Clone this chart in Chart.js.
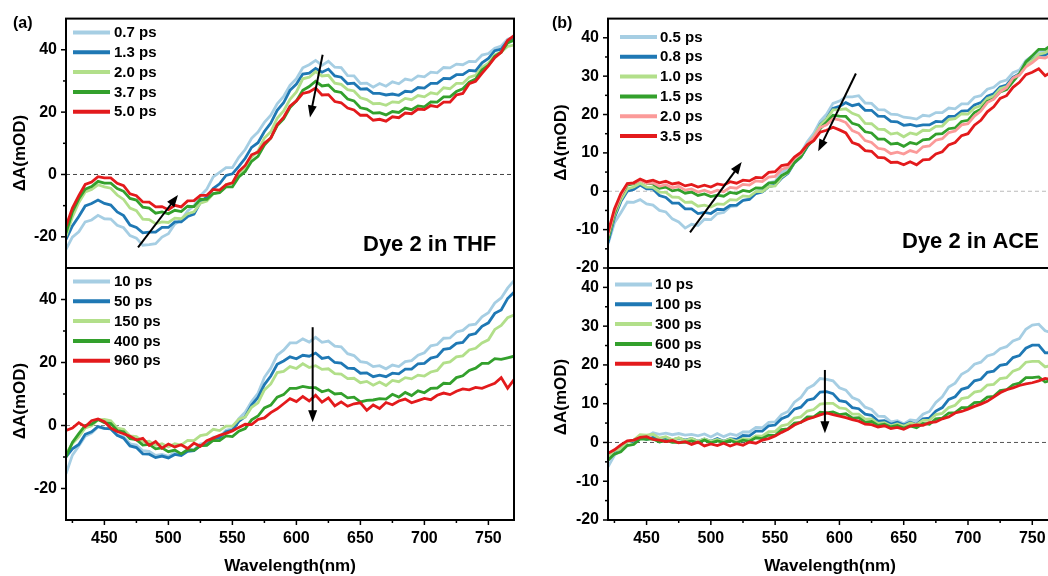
<!DOCTYPE html>
<html><head><meta charset="utf-8">
<script src="https://cdn.jsdelivr.net/npm/chart.js@4.4.1/dist/chart.umd.min.js"></script>
<style>
html,body{margin:0;padding:0;background:#fff;overflow:hidden;width:1048px;height:576px;position:relative;}
canvas{position:absolute;left:0;top:0;}
</style></head><body>
<canvas id="ta" width="1070" height="576" style="width:1070px;height:576px"></canvas>
<canvas id="ba" width="1070" height="576" style="width:1070px;height:576px"></canvas>
<canvas id="tb" width="1070" height="576" style="width:1070px;height:576px"></canvas>
<canvas id="bb" width="1070" height="576" style="width:1070px;height:576px"></canvas>
<script>
// ---------- DATA ----------
const WL = [420,425,430,435,440,445,450,455,460,465,470,475,480,485,490,495,500,505,510,515,
520,525,530,535,540,545,550,555,560,565,570,575,580,585,590,595,600,605,610,615,
620,625,630,635,640,645,650,655,660,665,670,675,680,685,690,695,700,705,710,715,
720,725,730,735,740,745,750,755,760,765,770];

const X_MAJOR = [450,500,550,600,650,700,750];
const X_MINOR = [425,475,525,575,625,675,725];
const YA_MAJOR = [-20,0,20,40];
const YA_MINOR = [-10,10,30];
const YB_MAJOR = [-20,-10,0,10,20,30,40];
const YB_MINOR = [-15,-5,5,15,25,35];

// (a) top: Dye 2 in THF, early times
const TA_NAMES = ['0.7 ps','1.3 ps','2.0 ps','3.7 ps','5.0 ps'];
const TA_07 = [-24.0,-20.1,-18.4,-15.2,-14.6,-13.1,-14.2,-14.3,-16.3,-17.1,
-19.6,-20.4,-22.7,-22.5,-22.2,-20.1,-19.0,-15.9,-14.6,-11.7,
-10.0,-6.8,-4.7,-0.8,0.7,2.2,2.2,5.5,8.0,11.6,
13.6,16.7,19.0,22.7,25.0,28.6,30.7,34.2,35.2,36.6,
35.0,36.3,34.4,34.3,31.7,31.6,29.2,29.3,28.0,29.2,
28.3,29.7,29.1,30.6,30.2,31.6,31.3,32.8,32.6,34.3,
34.2,35.4,35.2,36.3,36.2,38.3,38.8,40.5,41.2,43.4,
44.0];
const TA_13 = [-20.8,-16.5,-13.5,-10.1,-9.3,-8.2,-9.3,-9.8,-12.0,-13.2,
-16.2,-17.0,-18.7,-18.5,-18.5,-17.0,-17.0,-15.2,-15.2,-13.5,
-12.7,-8.9,-7.2,-4.5,-3.0,-0.3,0.2,2.6,5.2,8.7,
10.2,13.8,16.5,20.6,23.0,27.0,29.0,32.2,32.5,34.0,
32.8,33.8,31.6,31.2,29.1,29.3,27.4,27.5,26.0,26.0,
25.5,25.8,25.4,26.7,26.5,27.9,27.7,29.2,29.2,30.8,
30.7,32.0,32.0,33.4,33.2,35.8,37.2,39.7,40.2,42.8,
43.5];
const TA_20 = [-19.8,-13.6,-9.0,-5.6,-4.8,-3.3,-4.0,-4.4,-6.6,-8.0,
-10.8,-11.6,-14.3,-14.5,-15.8,-15.2,-15.4,-14.0,-14.2,-12.6,
-12.0,-9.2,-8.5,-6.2,-5.6,-3.2,-2.8,0.0,1.9,5.5,
7.5,11.7,13.7,18.0,20.4,24.1,26.5,30.7,31.2,33.0,
31.6,31.8,29.3,28.9,27.2,26.8,24.6,24.0,22.7,22.8,
22.2,23.3,23.1,24.4,24.0,25.3,24.9,26.2,25.8,27.8,
27.5,29.2,29.2,31.2,31.8,34.4,35.7,38.4,39.3,41.1,
41.5];
const TA_37 = [-18.8,-12.0,-7.8,-4.7,-3.9,-2.2,-2.8,-2.8,-4.5,-5.4,
-7.7,-8.2,-10.5,-10.8,-12.4,-12.0,-12.6,-11.5,-11.9,-10.2,
-10.3,-7.9,-8.0,-6.1,-5.8,-4.0,-4.0,-0.8,0.9,4.2,
5.8,9.4,11.7,15.7,17.8,21.5,23.6,27.0,28.2,29.9,
28.4,28.7,26.7,26.3,24.2,23.6,21.4,21.0,19.7,19.8,
19.1,20.2,19.9,21.3,20.8,22.0,21.7,23.3,23.2,24.9,
24.9,26.6,27.5,29.6,30.6,33.5,35.0,37.9,39.2,42.2,
43.1];
const TA_50 = [-16.6,-10.8,-6.8,-3.2,-2.4,-0.7,-1.1,-1.1,-2.8,-3.6,
-6.2,-6.8,-8.8,-8.9,-10.4,-10.3,-11.3,-9.9,-10.4,-8.5,
-8.4,-6.7,-6.7,-4.8,-5.0,-3.3,-2.7,1.0,2.9,6.3,
7.2,10.0,11.7,16.0,18.3,21.9,23.6,26.0,26.5,27.7,
25.5,25.6,23.4,23.0,21.3,20.7,19.0,19.0,17.4,17.7,
17.1,18.5,18.2,19.7,19.5,21.0,20.8,22.1,21.7,23.2,
23.2,25.5,26.0,29.1,29.9,32.4,34.8,37.5,39.2,43.0,
44.5];

// (a) bottom: Dye 2 in THF, late times
const BA_NAMES = ['10 ps','50 ps','150 ps','400 ps','960 ps'];
const BA_10 = [-15.3,-9.4,-6.5,-3.4,-2.4,-0.5,-1.0,-1.0,-3.1,-3.5,
-5.8,-6.2,-8.0,-8.2,-9.5,-9.2,-9.8,-8.6,-9.0,-7.6,
-7.6,-5.8,-5.7,-3.7,-3.6,-1.5,-1.0,2.2,4.2,7.6,
10.2,15.3,18.2,22.3,23.9,26.2,26.2,27.5,26.5,28.0,
26.4,26.8,25.2,25.0,22.8,22.2,20.3,20.0,18.7,19.0,
18.0,19.2,18.7,20.3,20.6,22.3,23.1,25.3,25.7,27.7,
27.8,29.7,30.2,31.9,32.2,34.5,35.8,38.9,40.5,43.6,
46.0];
const BA_50 = [-10.0,-7.4,-6.0,-2.8,-2.0,-0.3,-0.9,-1.1,-3.1,-4.0,
-6.5,-7.0,-9.0,-9.1,-10.2,-9.7,-10.3,-9.2,-9.5,-8.2,
-8.0,-6.4,-6.1,-4.2,-3.9,-2.0,-1.5,1.3,2.8,6.5,
8.9,13.0,15.7,19.4,20.5,21.8,21.2,22.3,22.0,23.0,
21.3,21.7,20.0,19.8,18.2,18.1,16.6,16.7,15.5,16.0,
15.5,16.6,16.4,17.9,17.9,19.6,19.7,21.4,21.9,24.2,
24.5,26.1,26.4,28.7,29.2,31.5,32.6,35.6,36.7,40.3,
42.3];
const BA_150 = [-9.0,-5.7,-3.6,-0.8,-0.1,1.8,1.9,1.5,-0.8,-1.2,
-3.3,-3.5,-5.2,-5.0,-6.3,-5.8,-6.8,-5.8,-6.2,-4.7,
-4.8,-3.2,-2.8,-1.2,-1.6,-0.2,-0.2,2.0,2.7,5.8,
7.2,11.3,13.2,16.8,17.2,18.7,18.1,19.6,18.4,19.0,
17.8,18.0,16.5,16.3,14.9,15.0,13.6,14.0,12.8,13.8,
12.7,14.3,13.9,15.2,14.8,16.0,15.7,17.0,17.5,19.8,
20.2,21.8,22.1,24.0,24.5,26.2,27.2,30.5,31.8,34.2,
35.1];
const BA_400 = [-10.0,-5.4,-2.6,0.0,0.4,1.9,0.9,0.6,-1.6,-2.0,
-4.2,-4.5,-6.2,-6.0,-7.4,-7.1,-8.3,-7.8,-9.0,-7.7,
-7.9,-6.4,-6.3,-4.7,-4.8,-3.3,-3.5,-1.8,-1.0,1.8,
3.0,5.6,6.5,9.0,9.8,11.8,11.8,12.4,12.0,12.0,
10.7,11.3,10.0,10.2,8.8,9.0,7.5,8.0,8.1,8.5,
8.4,9.9,9.0,10.5,9.5,11.0,10.4,11.8,11.9,13.4,
13.3,15.2,15.8,17.5,18.2,19.7,19.7,21.2,21.0,21.5,
22.0];
const BA_960 = [-1.6,-0.8,0.9,-0.4,1.5,2.1,1.2,-0.8,-1.9,-2.6,
-3.4,-4.6,-4.1,-6.3,-5.1,-7.2,-5.9,-6.8,-6.1,-7.3,
-5.6,-6.6,-4.8,-4.0,-3.1,-2.5,-1.7,-0.6,0.4,0.3,
1.9,2.4,4.1,5.3,6.9,8.5,7.6,9.2,7.8,9.6,
7.4,8.8,6.2,7.5,6.1,6.9,7.2,4.8,6.5,5.4,
7.3,6.6,7.8,8.4,7.2,7.9,8.6,8.2,9.6,10.3,
9.8,10.9,11.6,11.3,12.1,11.8,12.6,13.4,15.2,11.8,
14.6];

// (b) top: Dye 2 in ACE, early times
const TB_NAMES = ['0.5 ps','0.8 ps','1.0 ps','1.5 ps','2.0 ps','3.5 ps'];
const TB_05 = [-13.8,-8.2,-5.6,-2.8,-2.9,-2.2,-3.3,-3.6,-5.0,-5.4,
-7.2,-8.0,-9.6,-8.6,-8.9,-7.3,-7.4,-5.8,-5.5,-4.0,
-3.8,-2.3,-2.0,-0.2,0.5,2.2,2.6,4.9,5.8,8.5,
10.0,12.9,15.1,18.2,20.1,22.9,23.5,24.6,24.6,24.9,
23.0,22.9,21.3,21.2,20.1,20.0,19.3,19.1,18.8,19.8,
19.6,20.5,20.5,21.7,21.5,22.8,22.8,24.5,24.9,26.6,
27.1,28.5,29.0,30.9,31.6,34.1,35.3,36.4,36.6,37.6,
37.6];
const TB_08 = [-13.4,-6.9,-2.7,0.0,0.5,1.6,0.6,0.6,-1.1,-1.6,
-3.1,-3.1,-4.6,-4.6,-5.8,-5.5,-5.8,-4.7,-4.8,-3.7,
-3.6,-2.4,-2.1,-0.6,-0.2,1.2,1.6,3.4,4.7,7.4,
8.9,11.6,13.8,17.3,18.9,21.6,22.1,23.1,22.3,22.7,
21.1,21.1,19.6,19.5,18.2,18.1,17.2,17.4,17.0,17.3,
17.3,18.2,18.1,19.5,19.6,20.9,21.0,22.5,23.1,24.8,
25.4,27.2,27.7,29.7,30.6,33.1,34.3,35.5,35.5,36.6,
36.6];
const TB_10 = [-12.5,-6.3,-2.2,0.6,1.1,2.1,1.1,1.0,-0.2,-0.3,
-1.5,-1.6,-2.9,-2.8,-3.9,-3.6,-4.1,-3.3,-3.4,-2.2,
-2.3,-1.2,-1.4,-0.1,-0.1,1.2,1.4,3.7,4.9,7.6,
9.1,12.1,14.3,17.2,18.8,21.2,21.3,21.5,20.3,19.7,
17.7,17.6,16.2,16.1,14.9,15.2,14.2,15.2,14.8,15.9,
15.8,16.9,17.0,18.7,18.9,20.2,20.1,21.7,22.3,24.2,
24.8,26.7,27.3,29.4,30.5,32.9,34.1,35.7,36.1,37.2,
37.1];
const TB_15 = [-12.5,-5.8,-1.3,1.6,2.0,3.0,2.1,1.9,0.8,1.1,
0.1,0.4,-0.5,-0.2,-1.1,-0.7,-1.4,-1.0,-1.3,-0.3,
-0.6,0.2,-0.1,0.9,0.8,2.1,2.3,4.1,5.0,7.5,
9.0,11.8,13.3,16.3,18.0,19.8,19.6,19.5,17.7,17.2,
15.5,15.2,13.6,13.6,12.3,12.5,11.7,12.7,12.3,13.4,
13.6,14.9,15.0,16.3,16.5,18.2,18.5,20.5,21.4,23.4,
24.1,25.9,26.5,28.6,30.6,33.7,35.3,37.0,37.0,38.1,
37.9];
const TB_20 = [-11.7,-5.2,-1.2,1.9,2.1,2.9,2.1,2.2,1.3,1.7,
0.9,1.3,0.3,0.6,-0.2,0.3,-0.4,0.3,-0.1,1.0,
0.8,1.8,1.6,2.7,2.5,3.7,3.9,5.7,6.3,8.6,
9.8,12.2,14.1,16.6,17.3,18.9,18.6,17.9,15.8,15.1,
13.2,12.7,11.2,10.9,9.8,10.2,9.7,10.6,10.1,11.6,
11.8,13.3,13.7,15.3,15.7,17.3,17.6,19.6,20.9,23.1,
24.0,25.9,27.0,29.5,30.3,32.4,33.5,34.9,34.7,35.5,
35.2];
const TB_35 = [-10.8,-4.6,-0.6,2.0,2.2,3.2,2.5,2.9,2.2,2.6,
1.9,2.2,1.4,1.8,1.1,1.6,1.1,1.9,1.6,2.5,
2.1,2.9,2.7,3.6,3.5,4.9,5.1,6.7,7.0,8.9,
10.1,12.1,13.2,15.4,15.9,16.7,16.0,15.2,12.7,12.1,
10.6,10.4,8.8,8.7,7.5,7.6,6.9,7.7,6.9,8.2,
8.3,9.7,10.3,12.1,12.7,14.5,15.0,17.2,18.5,20.7,
22.0,24.2,24.9,27.1,28.4,30.4,31.0,31.9,30.1,31.1,
30.7];

// (b) bottom: Dye 2 in ACE, late times
const BB_NAMES = ['10 ps','100 ps','300 ps','600 ps','940 ps'];
const BB_10 = [-6.3,-3.3,-1.9,0.2,0.6,1.7,1.5,2.5,2.1,2.4,
2.0,2.3,1.9,2.1,1.7,2.2,1.4,2.3,1.5,2.2,
1.8,2.7,2.7,3.9,3.8,5.2,5.3,7.2,8.0,10.4,
11.6,13.9,14.8,16.5,16.3,15.9,14.1,13.5,11.6,10.9,
9.1,8.5,6.8,6.7,5.3,5.6,4.8,5.8,5.6,7.3,
8.0,10.3,11.8,14.3,15.3,17.6,18.5,20.2,20.7,22.3,
22.8,24.2,24.7,26.2,26.8,29.2,30.3,30.5,28.8,28.3,
27.3];
const BB_100 = [-4.6,-2.3,-1.5,0.2,0.3,1.3,0.8,1.3,0.8,1.2,
0.7,1.1,0.6,1.0,0.3,0.9,0.3,1.0,0.3,1.0,
0.8,1.8,1.7,2.9,2.9,4.3,4.5,6.1,6.8,8.6,
9.1,10.9,11.3,13.0,13.1,12.6,10.8,10.5,9.0,8.7,
7.3,7.0,5.5,5.6,4.7,5.2,4.5,5.2,4.7,6.1,
6.3,8.1,9.0,11.1,11.8,13.7,14.2,15.9,16.3,18.1,
18.4,19.9,20.2,21.9,22.4,24.3,25.1,25.1,23.1,23.2,
22.3];
const BB_300 = [-3.7,-2.1,-1.6,0.1,0.6,2.0,1.9,2.1,1.1,1.5,
0.7,1.2,0.5,1.0,0.3,0.9,0.3,0.8,0.3,0.9,
0.3,1.0,0.7,1.7,1.6,2.8,2.8,4.3,4.7,6.3,
6.6,8.1,8.5,9.9,10.1,10.1,8.9,8.7,7.3,7.3,
6.0,6.1,4.9,5.1,4.3,4.8,4.2,5.0,4.6,5.7,
5.7,7.2,7.5,9.0,9.6,11.3,11.6,13.0,13.3,14.8,
15.0,16.5,16.7,18.4,19.0,20.7,20.9,20.9,19.5,19.9,
19.1];
const BB_600 = [-4.6,-3.0,-2.4,-0.8,-0.5,0.9,0.8,0.9,0.1,0.5,
0.0,0.1,0.0,0.4,-0.1,0.6,-0.1,0.4,0.0,0.5,
-0.1,0.6,0.3,1.2,1.0,1.9,1.8,3.3,3.5,5.0,
5.2,6.6,6.6,7.8,7.6,7.9,7.2,7.4,6.3,6.4,
5.2,5.4,4.4,4.7,4.0,4.4,3.7,4.3,3.8,4.9,
4.7,6.1,6.3,7.6,7.7,9.0,9.0,10.3,10.4,11.7,
11.9,13.4,13.6,14.9,15.3,16.7,16.7,16.9,15.6,16.1,
15.4];
const BB_940 = [-2.8,-1.9,-0.6,0.4,0.6,1.3,1.5,0.8,0.6,0.2,
0.5,-0.1,0.2,-0.5,0.1,-0.9,-0.4,-0.8,-0.2,-0.9,
-0.3,-0.7,0.1,-0.2,0.6,1.0,1.7,2.6,3.4,4.5,
5.2,6.0,6.5,7.1,7.6,7.2,6.8,6.4,5.9,5.5,
4.7,4.6,4.0,4.3,3.6,3.9,3.4,4.2,4.5,4.4,
5.1,5.3,6.1,6.6,7.6,8.0,8.6,9.3,9.9,10.6,
11.7,12.8,13.6,14.1,14.7,15.1,15.4,15.9,16.5,16.2,
16.4];

// ---------- STYLE ----------
const FONT = '"Liberation Sans", Arial, Helvetica, sans-serif';
const C5 = ['#a6cee3','#1f78b4','#b2df8a','#33a02c','#e31a1c'];
const C6 = ['#a6cee3','#1f78b4','#b2df8a','#33a02c','#fb9a99','#e31a1c'];

function drawArrow(ctx, x1, y1, x2, y2) {
  const a = Math.atan2(y2 - y1, x2 - x1), L = 12, W = 4.5;
  ctx.beginPath();
  ctx.moveTo(x1, y1);
  ctx.lineTo(x2 - (L - 2) * Math.cos(a), y2 - (L - 2) * Math.sin(a));
  ctx.stroke();
  ctx.beginPath();
  ctx.moveTo(x2, y2);
  ctx.lineTo(x2 - L * Math.cos(a) + W * Math.sin(a), y2 - L * Math.sin(a) - W * Math.cos(a));
  ctx.lineTo(x2 - L * Math.cos(a) - W * Math.sin(a), y2 - L * Math.sin(a) + W * Math.cos(a));
  ctx.closePath();
  ctx.fill();
}

const panelPlugin = {
  id: 'panel',
  beforeDatasetsDraw(chart, args, o) {
    const { ctx, chartArea: a } = chart;
    const y0 = chart.scales.y.getPixelForValue(0);
    ctx.save();
    ctx.strokeStyle = o.zeroColor; ctx.lineWidth = 1; ctx.setLineDash([4, 3]);
    ctx.beginPath(); ctx.moveTo(a.left, y0); ctx.lineTo(a.right, y0); ctx.stroke();
    ctx.restore();
  },
  afterDatasetsDraw(chart, args, o) {
    const { ctx } = chart; const sx = chart.scales.x, sy = chart.scales.y;
    ctx.save();
    ctx.strokeStyle = '#000'; ctx.fillStyle = '#000'; ctx.lineWidth = 2;
    (o.arrows || []).forEach(r => drawArrow(ctx,
      sx.getPixelForValue(r[0]), sy.getPixelForValue(r[1]),
      sx.getPixelForValue(r[2]), sy.getPixelForValue(r[3])));
    ctx.restore();
  },
  afterDraw(chart, args, o) {
    const { ctx, chartArea: a } = chart; const sx = chart.scales.x, sy = chart.scales.y;
    ctx.save();
    ctx.strokeStyle = '#000'; ctx.lineWidth = 1.5;
    o.yMajor.forEach(v => { const p = sy.getPixelForValue(v); ctx.beginPath(); ctx.moveTo(a.left, p); ctx.lineTo(a.left - 5, p); ctx.stroke(); });
    o.yMinor.forEach(v => { const p = sy.getPixelForValue(v); ctx.beginPath(); ctx.moveTo(a.left, p); ctx.lineTo(a.left - 3, p); ctx.stroke(); });
    if (o.showX) {
      X_MAJOR.forEach(v => { const p = sx.getPixelForValue(v); ctx.beginPath(); ctx.moveTo(p, a.bottom); ctx.lineTo(p, a.bottom + 5); ctx.stroke(); });
      X_MINOR.forEach(v => { const p = sx.getPixelForValue(v); ctx.beginPath(); ctx.moveTo(p, a.bottom); ctx.lineTo(p, a.bottom + 3); ctx.stroke(); });
    }
    ctx.lineWidth = 2;
    ctx.strokeRect(a.left, a.top, a.right - a.left, a.bottom - a.top);
    const lg = o.legend;
    ctx.font = 'bold 15px ' + FONT; ctx.textBaseline = 'middle'; ctx.textAlign = 'left';
    chart.data.datasets.forEach((d, i) => {
      const y = lg.y0 + i * lg.dy;
      ctx.strokeStyle = d.borderColor; ctx.lineWidth = 4;
      ctx.beginPath(); ctx.moveTo(lg.x0, y); ctx.lineTo(lg.x1, y); ctx.stroke();
      ctx.fillStyle = '#000'; ctx.fillText(d.label, lg.tx, y + 0.5);
    });
    (o.texts || []).forEach(t => {
      ctx.save();
      ctx.font = 'bold ' + t.size + 'px ' + FONT;
      ctx.fillStyle = '#000';
      ctx.textAlign = t.align || 'left';
      ctx.textBaseline = t.base || 'alphabetic';
      ctx.translate(t.x, t.y);
      if (t.rot) ctx.rotate(-Math.PI / 2);
      ctx.fillText(t.t, 0, 0);
      ctx.restore();
    });
    ctx.restore();
  }
};

function makePanel(id, cfg) {
  const n = cfg.series.length;
  const datasets = cfg.series.map((vals, i) => ({
    label: cfg.names[i],
    data: WL.map((w, k) => ({ x: w, y: vals[k] })),
    borderColor: cfg.colors[i],
    backgroundColor: cfg.colors[i],
    borderWidth: 2.8,
    pointRadius: 0,
    tension: 0,
    fill: false,
    clip: 0,
    order: n - i
  }));
  const tickFont = { family: FONT, size: 16, weight: 'bold' };
  return new Chart(document.getElementById(id), {
    type: 'line',
    data: { datasets },
    plugins: [panelPlugin],
    options: {
      responsive: false, animation: false, devicePixelRatio: 1,
      layout: { padding: cfg.pad },
      plugins: {
        legend: { display: false }, tooltip: { enabled: false },
        panel: { zeroColor: cfg.zero, arrows: cfg.arrows, texts: cfg.texts, legend: cfg.legend,
                 yMajor: cfg.yMajor, yMinor: cfg.yMinor, showX: cfg.showX }
      },
      scales: {
        x: {
          type: 'linear', min: 420, max: 770, display: cfg.showX,
          afterFit: cfg.showX ? (s => { s.height = 30; }) : undefined,
          afterBuildTicks: s => { s.ticks = X_MAJOR.map(v => ({ value: v })); },
          grid: { display: false, drawTicks: false }, border: { display: false },
          ticks: { font: tickFont, color: '#000', padding: 9, maxRotation: 0, autoSkip: false }
        },
        y: {
          type: 'linear', min: cfg.yMin, max: cfg.yMax,
          afterFit: s => { s.width = cfg.yW; },
          afterBuildTicks: s => { s.ticks = cfg.yMajor.map(v => ({ value: v })); },
          grid: { display: false, drawTicks: false }, border: { display: false },
          ticks: { font: tickFont, color: '#000', padding: 9, autoSkip: false }
        }
      }
    }
  });
}

makePanel('ta', {
  series: [TA_07, TA_13, TA_20, TA_37, TA_50], names: TA_NAMES, colors: C5,
  pad: { left: 0, top: 17, right: 556, bottom: 308 }, yW: 66, showX: false,
  yMin: -30, yMax: 50, yMajor: YA_MAJOR, yMinor: YA_MINOR, zero: '#444',
  legend: { x0: 73, x1: 110, tx: 114, y0: 32.5, dy: 19.8 },
  arrows: [[476.3, -23.4, 507.5, -6.6], [620.5, 38.4, 610.6, 18.3]],
  texts: [
    { t: '(a)', x: 13, y: 28, size: 16 },
    { t: 'Dye 2 in THF', x: 363, y: 251, size: 22 },
    { t: 'ΔA(mOD)', x: 20.5, y: 153, size: 17, rot: true, align: 'center', base: 'middle' }
  ]
});
makePanel('ba', {
  series: [BA_10, BA_50, BA_150, BA_400, BA_960], names: BA_NAMES, colors: C5,
  pad: { left: 0, top: 268, right: 556, bottom: 26 }, yW: 66, showX: true,
  yMin: -30, yMax: 50, yMajor: YA_MAJOR, yMinor: YA_MINOR, zero: '#888',
  legend: { x0: 73, x1: 110, tx: 114, y0: 281.5, dy: 19.8 },
  arrows: [[612.7, 31.2, 612.7, 1.0]],
  texts: [
    { t: 'ΔA(mOD)', x: 20.5, y: 401, size: 17, rot: true, align: 'center', base: 'middle' },
    { t: 'Wavelength(nm)', x: 290, y: 571, size: 17, align: 'center' }
  ]
});
makePanel('tb', {
  series: [TB_05, TB_08, TB_10, TB_15, TB_20, TB_35], names: TB_NAMES, colors: C6,
  pad: { left: 540, top: 17, right: 12, bottom: 308 }, yW: 68, showX: false,
  yMin: -20, yMax: 45, yMajor: YB_MAJOR, yMinor: YB_MINOR, zero: '#bbb',
  legend: { x0: 620, x1: 657, tx: 660, y0: 37, dy: 19.8 },
  arrows: [[483.8, -10.7, 524, 7.6], [612.8, 30.7, 583.5, 10.4]],
  texts: [
    { t: '(b)', x: 552, y: 28, size: 16 },
    { t: 'Dye 2 in ACE', x: 902, y: 248, size: 22 },
    { t: 'ΔA(mOD)', x: 561, y: 142.5, size: 17, rot: true, align: 'center', base: 'middle' }
  ]
});
makePanel('bb', {
  series: [BB_10, BB_100, BB_300, BB_600, BB_940], names: BB_NAMES, colors: C5,
  pad: { left: 540, top: 268, right: 12, bottom: 26 }, yW: 68, showX: true,
  yMin: -20, yMax: 45, yMajor: YB_MAJOR, yMinor: YB_MINOR, zero: '#555',
  legend: { x0: 615, x1: 652, tx: 655, y0: 284.5, dy: 19.8 },
  arrows: [[588.7, 18.7, 588.7, 2.4]],
  texts: [
    { t: 'ΔA(mOD)', x: 561, y: 397, size: 17, rot: true, align: 'center', base: 'middle' },
    { t: 'Wavelength(nm)', x: 830, y: 571, size: 17, align: 'center' }
  ]
});
</script>
</body></html>
